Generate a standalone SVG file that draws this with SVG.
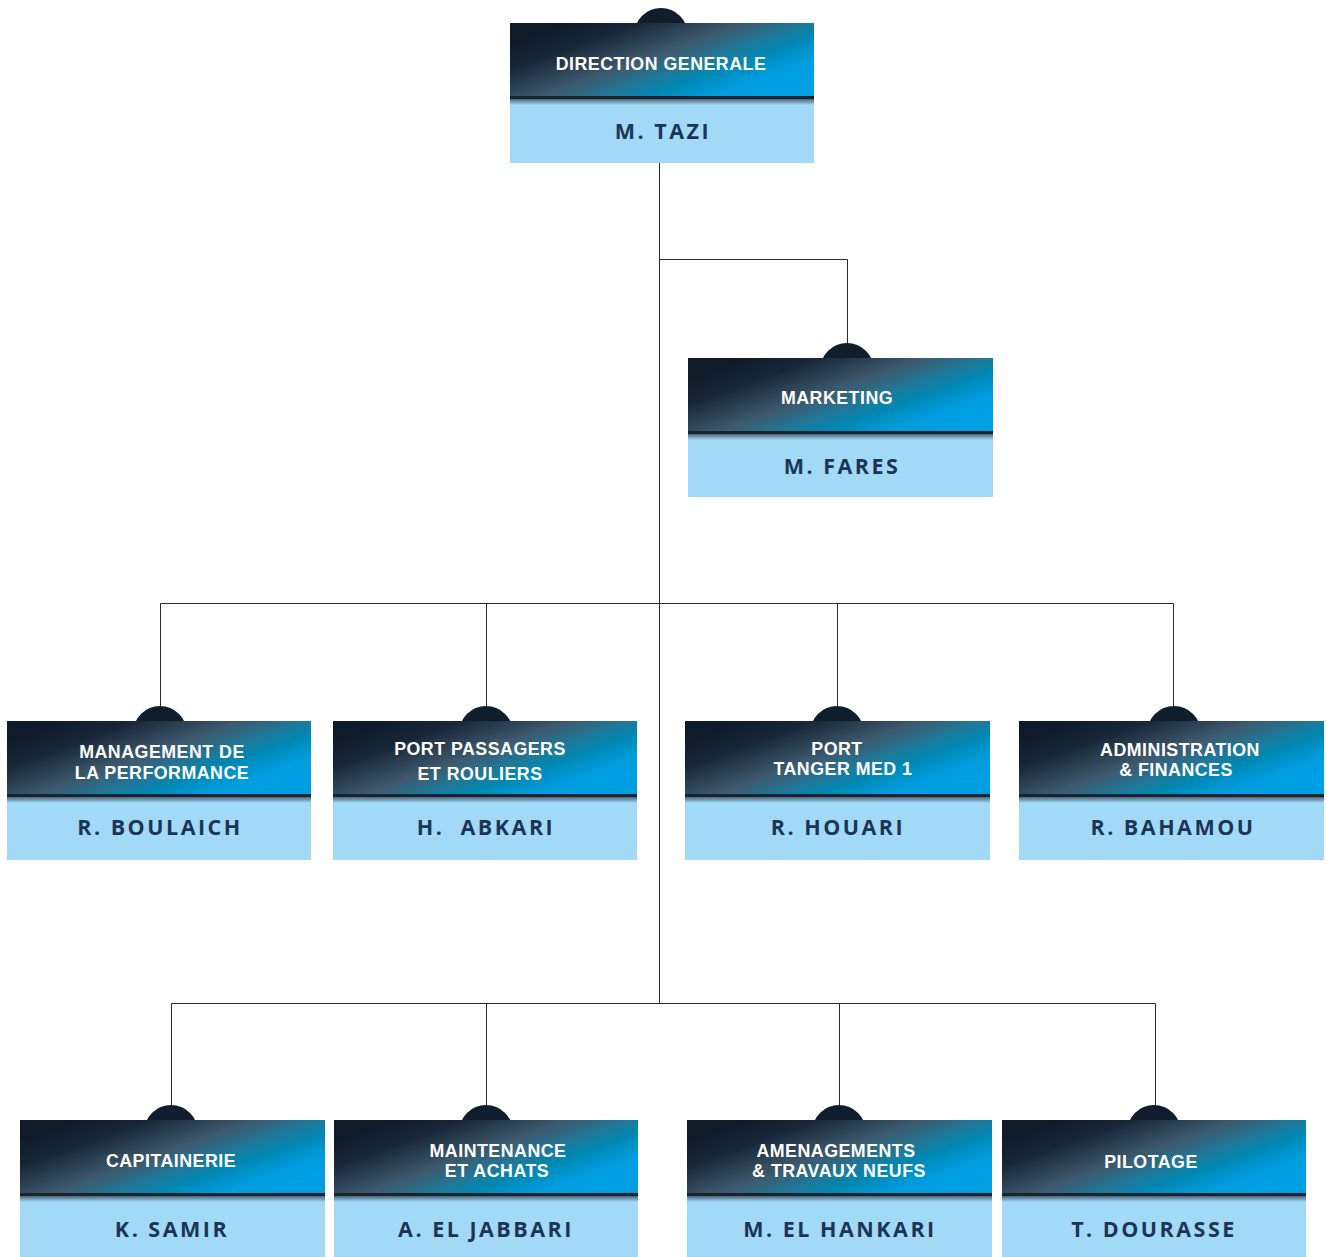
<svg xmlns="http://www.w3.org/2000/svg" width="1327" height="1257" viewBox="0 0 1327 1257">
<defs>
<linearGradient id="hg" x1="0.05" y1="0.2" x2="0.95" y2="0.8">
<stop offset="0" stop-color="#0f1b29"/>
<stop offset="0.18" stop-color="#172638"/>
<stop offset="0.45" stop-color="#3d596d"/>
<stop offset="0.62" stop-color="#1d7a9c"/>
<stop offset="0.72" stop-color="#0088b3"/>
<stop offset="0.88" stop-color="#009ddf"/>
<stop offset="1" stop-color="#009fe3"/>
</linearGradient>
<linearGradient id="sg" x1="0" y1="0" x2="0" y2="1">
<stop offset="0" stop-color="#3b5168"/>
<stop offset="1" stop-color="#a2d9f6"/>
</linearGradient>
</defs>
<style>
.c{fill:#0f1d2c}
.h{fill:url(#hg)}
.b{fill:#a2d9f6}
.ln{fill:#1a2431}
.sh{fill:url(#sg)}
.t{font-family:"Liberation Sans",Arial,sans-serif;font-weight:bold;font-size:17.8px;fill:#ffffff;text-anchor:middle;letter-spacing:0.5px}
.n{font-family:"Open Sans","Liberation Sans",sans-serif;font-weight:bold;font-size:21.5px;fill:#1b3556;text-anchor:middle;letter-spacing:2.5px}
.e{fill:none;stroke:#2b2b2b;stroke-width:1}
</style>
<g id="connectors">
<path class="e" d="M659.5 163V1003.5"/>
<path class="e" d="M659.5 259.5H847.5V345"/>
<path class="e" d="M160.5 708V603.5H1173.5V708M486.5 603.5V708M837.5 603.5V708"/>
<path class="e" d="M171.5 1107V1003.5H1155.5V1107M486.5 1003.5V1107M839.5 1003.5V1107"/>
</g>
<g id="n-dg">
<circle class="c" cx="661" cy="35" r="27"/>
<rect class="h" x="510" y="23" width="304" height="73"/>
<rect class="b" x="510" y="96" width="304" height="67"/>
<rect class="sh" x="510" y="98" width="304" height="7"/>
<rect class="ln" x="510" y="96" width="304" height="3"/>
<text class="t" x="661" y="70">DIRECTION GENERALE</text>
<text class="n" x="663" y="139">M. TAZI</text>
</g>
<g id="n-mkt">
<circle class="c" cx="847" cy="370" r="27"/>
<rect class="h" x="688" y="358" width="305" height="73"/>
<rect class="b" x="688" y="431" width="305" height="66"/>
<rect class="sh" x="688" y="433" width="305" height="7"/>
<rect class="ln" x="688" y="431" width="305" height="3"/>
<text class="t" x="837" y="404">MARKETING</text>
<text class="n" x="842" y="474">M. FARES</text>
</g>
<g id="n-mgt">
<circle class="c" cx="160" cy="733" r="27"/>
<rect class="h" x="7" y="721" width="304" height="73"/>
<rect class="b" x="7" y="794" width="304" height="66"/>
<rect class="sh" x="7" y="796" width="304" height="7"/>
<rect class="ln" x="7" y="794" width="304" height="3"/>
<text class="t" x="162" y="758">MANAGEMENT DE</text>
<text class="t" x="162" y="779">LA PERFORMANCE</text>
<text class="n" x="160" y="835">R. BOULAICH</text>
</g>
<g id="n-ppr">
<circle class="c" cx="486" cy="733" r="27"/>
<rect class="h" x="333" y="721" width="304" height="73"/>
<rect class="b" x="333" y="794" width="304" height="66"/>
<rect class="sh" x="333" y="796" width="304" height="7"/>
<rect class="ln" x="333" y="794" width="304" height="3"/>
<text class="t" x="480" y="755">PORT PASSAGERS</text>
<text class="t" x="480" y="780">ET ROULIERS</text>
<text class="n" x="486" y="835" xml:space="preserve">H.  ABKARI</text>
</g>
<g id="n-ptm">
<circle class="c" cx="837" cy="733" r="27"/>
<rect class="h" x="685" y="721" width="305" height="73"/>
<rect class="b" x="685" y="794" width="305" height="66"/>
<rect class="sh" x="685" y="796" width="305" height="7"/>
<rect class="ln" x="685" y="794" width="305" height="3"/>
<text class="t" x="837" y="755">PORT</text>
<text class="t" x="843" y="775">TANGER MED 1</text>
<text class="n" x="838" y="835">R. HOUARI</text>
</g>
<g id="n-adm">
<circle class="c" cx="1174" cy="733" r="27"/>
<rect class="h" x="1019" y="721" width="305" height="73"/>
<rect class="b" x="1019" y="794" width="305" height="66"/>
<rect class="sh" x="1019" y="796" width="305" height="7"/>
<rect class="ln" x="1019" y="794" width="305" height="3"/>
<text class="t" x="1180" y="756">ADMINISTRATION</text>
<text class="t" x="1176" y="776">&amp; FINANCES</text>
<text class="n" x="1173" y="835">R. BAHAMOU</text>
</g>
<g id="n-cap">
<circle class="c" cx="171" cy="1132" r="27"/>
<rect class="h" x="20" y="1120" width="305" height="73"/>
<rect class="b" x="20" y="1193" width="305" height="64"/>
<rect class="sh" x="20" y="1195" width="305" height="7"/>
<rect class="ln" x="20" y="1193" width="305" height="3"/>
<text class="t" x="171" y="1167">CAPITAINERIE</text>
<text class="n" x="172" y="1237">K. SAMIR</text>
</g>
<g id="n-mai">
<circle class="c" cx="486" cy="1132" r="27"/>
<rect class="h" x="334" y="1120" width="304" height="73"/>
<rect class="b" x="334" y="1193" width="304" height="64"/>
<rect class="sh" x="334" y="1195" width="304" height="7"/>
<rect class="ln" x="334" y="1193" width="304" height="3"/>
<text class="t" x="498" y="1157">MAINTENANCE</text>
<text class="t" x="497" y="1177">ET ACHATS</text>
<text class="n" x="486" y="1237">A. EL JABBARI</text>
</g>
<g id="n-ame">
<circle class="c" cx="839" cy="1132" r="27"/>
<rect class="h" x="687" y="1120" width="305" height="73"/>
<rect class="b" x="687" y="1193" width="305" height="64"/>
<rect class="sh" x="687" y="1195" width="305" height="7"/>
<rect class="ln" x="687" y="1193" width="305" height="3"/>
<text class="t" x="836" y="1157">AMENAGEMENTS</text>
<text class="t" x="839" y="1177">&amp; TRAVAUX NEUFS</text>
<text class="n" x="840" y="1237">M. EL HANKARI</text>
</g>
<g id="n-pil">
<circle class="c" cx="1154" cy="1132" r="27"/>
<rect class="h" x="1002" y="1120" width="304" height="73"/>
<rect class="b" x="1002" y="1193" width="304" height="64"/>
<rect class="sh" x="1002" y="1195" width="304" height="7"/>
<rect class="ln" x="1002" y="1193" width="304" height="3"/>
<text class="t" x="1151" y="1168">PILOTAGE</text>
<text class="n" x="1154" y="1237">T. DOURASSE</text>
</g>
</svg>
